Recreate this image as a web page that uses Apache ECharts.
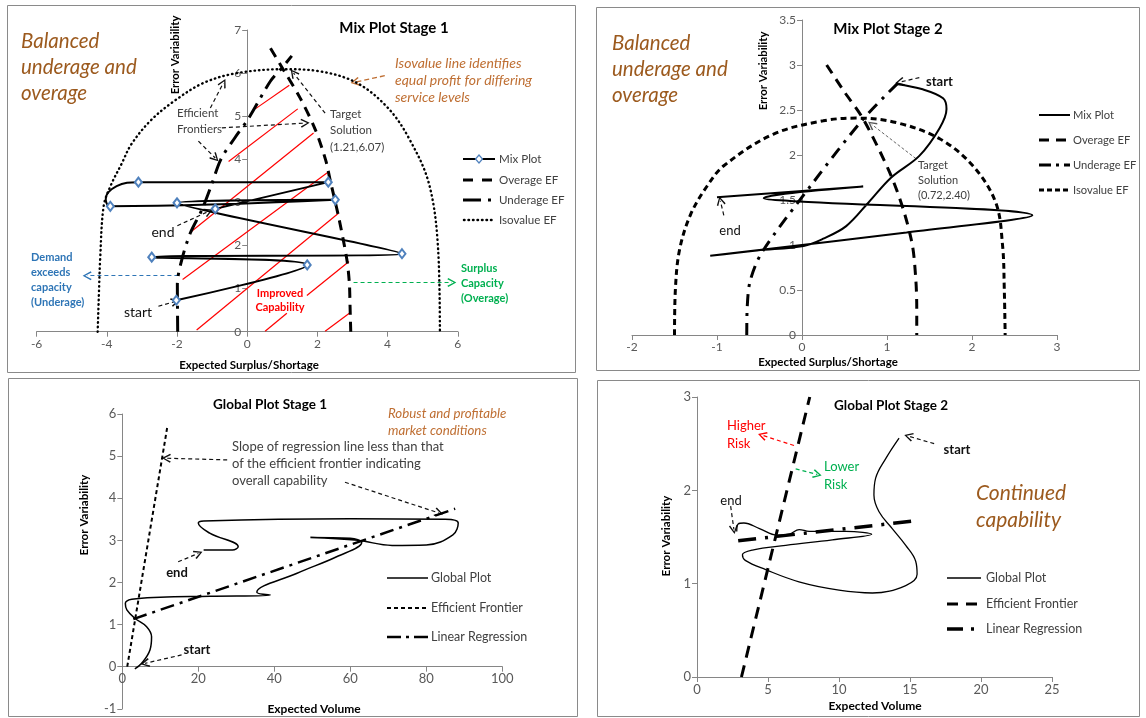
<!DOCTYPE html>
<html>
<head>
<meta charset="utf-8">
<script src="https://cdn.jsdelivr.net/npm/echarts@6/dist/echarts.min.js"></script>
<style>
html, body { margin: 0; padding: 0; background: #fff; }
#coolgraph { width: 1146px; height: 718px; }
</style>
</head>
<body>
<div id="coolgraph"></div>
<script>
// ---- Mix Plot Stage 1 (x: Expected Surplus/Shortage, y: Error Variability)
var mix1X = [-6, 6, 2];
var mix1Y = [0, 7, 1];
// markers are the real points; entries with symbol 'none' only shape the loop
var mix1Plot = [[-2.02,0.73],[1.71,1.55],[-2.72,1.73],[4.41,1.81],[-2.0,2.99],[2.51,3.06],[-3.9,2.91],
  { value: [-4.03,3.08], symbol: 'none' }, { value: [-3.72,3.38], symbol: 'none' },
  [-3.1,3.47],[2.31,3.47],[-0.91,2.85]];
var mix1Overage = [[2.95,0],[2.93,0.6],[2.91,1.13],[2.84,1.67],[2.6,2.68],[2.36,3.53],[2.24,3.97],[1.94,4.69],[1.51,5.42],[1.03,6.08],[0.66,6.58]];
var mix1Underage = [[-1.98,0],[-1.99,1.1],[-1.87,1.65],[-1.62,2.29],[-1.29,2.83],[-1.02,3.4],[-0.75,4.0],[-0.35,4.5],[0.04,4.95],[0.66,5.81],[1.03,6.16],[1.27,6.4]];
var mix1Isovalue = [[-4.26,0],[-4.22,1.0],[-4.19,1.67],[-4.09,2.91],[-3.9,3.37],[-3.57,3.91],[-3.3,4.35],[-2.75,4.9],[-2.1,5.34],[-1.25,5.77],[-0.29,6.0],[1.03,6.09],[2.08,6.04],[3.13,5.77],[4.0,5.2],[4.6,4.5],[5.18,3.43],[5.44,1.9],[5.49,0]];
var mix1Hatch = [
  [[0.23,5.17],[1.2,5.72]], [[-0.53,3.95],[1.44,5.17]], [[-1.6,2.32],[1.89,4.61]],
  [[-1.84,1.21],[2.3,3.7]], [[-1.44,0.04],[2.6,2.75]], [[0.51,0.01],[1.13,0.43]],
  [[1.7,0.84],[2.9,1.63]], [[2.22,0.01],[2.91,0.43]]
];
var mix1Arrows = [
  [[-1.05,5.19],[-0.68,5.77]], [[-0.72,4.73],[1.65,4.84]], [[-1.39,4.42],[-0.91,4.03]],
  [[2.22,5.07],[1.32,6.0]], [[-1.99,2.46],[-1.1,2.79]], [[-2.53,0.59],[-2.05,0.7]]
];
var mix1IsoArrow = [[[3.92,5.94],[3.07,5.79]]];
var mix1UnderArrow = [[[-1.96,1.3],[-4.56,1.3]]];
var mix1OverArrow = [[[3.03,1.14],[5.83,1.14]]];

// ---- Mix Plot Stage 2
var mix2X = [-2, 3, 1];
var mix2Y = [0, 3.5, 0.5];
var mix2Plot = [[1.11,2.79],[1.42,2.73],[1.66,2.63],[1.7,2.51],[1.62,2.3],[1.38,1.99],[1.05,1.75],[0.78,1.47],[0.52,1.21],[0.25,1.07],[0.02,0.99],[-0.53,0.94],[-1.08,0.88],[1.23,1.14],[2.71,1.33],[-0.14,1.49],[-0.45,1.52],[-0.2,1.57],[0.72,1.65],[-1.0,1.53]];
var mix2Overage = [[0.29,3.0],[0.5,2.7],[0.72,2.4],[1.03,1.81],[1.19,1.4],[1.3,0.99],[1.34,0.6],[1.35,0.3],[1.35,0]];
var mix2Underage = [[-0.65,0],[-0.645,0.3],[-0.61,0.6],[-0.47,0.92],[0.12,1.68],[0.72,2.4],[1.13,2.8]];
var mix2Isovalue = [[-1.5,0],[-1.49,0.5],[-1.44,0.95],[-1.31,1.34],[-1.12,1.65],[-0.92,1.88],[-0.34,2.23],[0.25,2.38],[0.64,2.41],[1.11,2.36],[1.62,2.18],[2.01,1.88],[2.28,1.47],[2.36,0.99],[2.38,0.5],[2.39,0]];
var mix2Arrows = [[[1.38,2.86],[1.15,2.81]], [[-0.92,1.33],[-0.96,1.49]]];
var mix2TargetArrow = [[[1.34,1.96],[0.82,2.34]]];

// ---- Global Plot Stage 1 (x: Expected Volume)
var glob1X = [0, 100, 20];
var glob1Y = [-1, 6, 1];
var glob1Plot = [[3.3,-0.05],[5.1,0.08],[7.3,0.4],[7.7,0.71],[6.4,0.95],[3.3,1.15],[1.2,1.35],[0.8,1.5],[2.5,1.6],[10,1.65],[23,1.67],[39,1.7],[35.4,1.77],[46,2.22],[56.4,2.61],[63,2.95],[60,3.05],[49.5,3.07],[62,3.0],[71,2.88],[80,2.89],[87,3.13],[88.4,3.41],[85,3.5],[60,3.51],[21.4,3.46],[20,3.41],[23,3.17],[30.5,2.85],[29,2.77],[21.4,2.77]];
var glob1Frontier = [[1.3,0],[11.8,5.67]];
var glob1Regression = [[2.9,1.13],[87.6,3.75]];
var glob1Arrows = [
  [[27.6,4.91],[11.6,4.95]], [[58.6,4.38],[83.3,3.65]],
  [[14.7,2.49],[20,2.69]], [[15.6,0.28],[6,0.08]]
];

// ---- Global Plot Stage 2
var glob2X = [0, 25, 5];
var glob2Y = [0, 3, 1];
var glob2Plot = [[14.23,2.56],[13.29,2.34],[12.58,2.13],[12.46,1.95],[12.82,1.77],[13.75,1.59],[14.7,1.41],[15.4,1.24],[15.5,1.1],[14.7,0.98],[12.35,0.9],[10,0.93],[7.18,1.02],[4.84,1.15],[3.4,1.25],[3.2,1.31],[3.9,1.36],[6.25,1.41],[9.53,1.47],[12.3,1.53],[10.5,1.56],[7.9,1.56],[7.2,1.58],[6.5,1.53],[5.65,1.52],[4.4,1.59],[3.3,1.65],[2.9,1.64],[2.8,1.56]];
var glob2Frontier = [[3.13,0],[7.94,3.0]];
var glob2Regression = [[2.9,1.46],[15.2,1.67]];
var glob2Arrows = [[[16.7,2.5],[14.9,2.58]], [[2.37,1.83],[2.6,1.58]]];
var glob2HighArrow = [[[6.83,2.48],[4.6,2.59]]];
var glob2LowArrow = [[[6.95,2.23],[8.47,2.17]]];

var FONT = 'Lato, "Open Sans", sans-serif';
var BROWN = '#9C5A1E';
var ORANGE = '#BF6F33';
var GREY = '#404040';
var AXIS = '#868686';
var ARROW = 'path://M5,0 L10,9 L8.6,10 L5,2.8 L1.4,10 L0,9 Z';

var chartDom = document.getElementById('coolgraph');
var myChart = echarts.init(chartDom);

// axis crossing the other one at zero is done with an offset (px) from the grid edge
function xAx(g, r, fs, off) {
  return {
    gridIndex: g, type: 'value', min: r[0], max: r[1], interval: r[2], offset: off || 0,
    axisLine: { onZero: false, lineStyle: { color: AXIS, width: 1 } },
    axisTick: { show: true, inside: false, length: 5, lineStyle: { color: AXIS } },
    axisLabel: { color: '#595959', fontSize: fs, fontFamily: FONT, margin: 6 },
    splitLine: { show: false }
  };
}
function yAx(g, r, fs, off) {
  return xAx(g, r, fs, off);
}
function curve(g, data, width, dash, smooth) {
  return {
    type: 'line', xAxisIndex: g, yAxisIndex: g, data: data,
    smooth: smooth, symbol: 'none', silent: true,
    lineStyle: { color: '#000', width: width, type: dash }
  };
}
function segs(g, list, color, width, dash, arrow) {
  return {
    type: 'lines', coordinateSystem: 'cartesian2d', xAxisIndex: g, yAxisIndex: g,
    silent: true, z: 3,
    symbol: arrow ? ['none', ARROW] : ['none', 'none'],
    symbolSize: [7, 9],
    lineStyle: { color: color, width: width, type: dash, opacity: 1 },
    data: list.map(function (c) { return { coords: c }; })
  };
}

// free text and legend helpers
function txt(x, y, s, font, fill, align, rot) {
  var e = { type: 'text', x: x, y: y, silent: true, z: 10,
    style: { text: s, font: font, fill: fill || '#000', align: align || 'left', verticalAlign: 'middle' } };
  if (rot) e.rotation = rot;
  return e;
}
function legRow(x1, x2, tx, y, label, width, dash, fs, cap) {
  return [
    { type: 'line', silent: true, z: 10, shape: { x1: x1, y1: y, x2: x2, y2: y },
      style: { stroke: '#000', lineWidth: width, lineDash: dash, lineCap: cap || 'butt' } },
    txt(tx, y, label, fs + 'px ' + FONT, GREY)
  ];
}
function box(x, y, w, h) {
  return { type: 'rect', silent: true, z: 0, shape: { x: x, y: y, width: w, height: h },
    style: { fill: null, stroke: '#8A8A8A', lineWidth: 1 } };
}

var els = [];
els.push(box(7.5, 5.5, 568, 367), box(596.5, 7.5, 543, 363), box(8.5, 378.5, 569, 338), box(597.5, 380.5, 542, 336));

// panel 1 texts
var bI = 'italic 20.5px ' + FONT;
els.push(txt(21, 41, 'Balanced', bI, BROWN), txt(21, 67, 'underage and', bI, BROWN), txt(21, 93, 'overage', bI, BROWN));
els.push(txt(394, 28, 'Mix Plot Stage 1', 'bold 15px ' + FONT, '#000', 'center'));
els.push(txt(175, 55, 'Error Variability', 'bold 11.3px ' + FONT, '#000', 'center', Math.PI / 2));
els.push(txt(249, 365, 'Expected Surplus/Shortage', 'bold 11.5px ' + FONT, '#000', 'center'));
var oI = 'italic 14px ' + FONT;
els.push(txt(395, 63, 'Isovalue line identifies', oI, ORANGE), txt(395, 80, 'equal profit for differing', oI, ORANGE), txt(395, 97, 'service levels', oI, ORANGE));
els.push(txt(177, 113, 'Efficient', '11.5px ' + FONT, GREY), txt(177, 129, 'Frontiers', '11.5px ' + FONT, GREY));
els.push(txt(330, 114, 'Target', '11.5px ' + FONT, GREY), txt(330, 130, 'Solution', '11.5px ' + FONT, GREY), txt(330, 147, '(1.21,6.07)', '11.5px ' + FONT, GREY));
els.push(txt(163, 232, 'end', '14px ' + FONT, '#111', 'center'), txt(138, 312, 'start', '14px ' + FONT, '#111', 'center'));
var blueF = 'bold 11px ' + FONT;
els.push(txt(31, 257, 'Demand', blueF, '#2E75B6'), txt(31, 272, 'exceeds', blueF, '#2E75B6'), txt(31, 287, 'capacity', blueF, '#2E75B6'), txt(31, 302, '(Underage)', blueF, '#2E75B6'));
els.push(txt(461, 268, 'Surplus', blueF, '#00B050'), txt(461, 283, 'Capacity', blueF, '#00B050'), txt(461, 298, '(Overage)', blueF, '#00B050'));
els.push(txt(280, 293, 'Improved', blueF, '#FF0000', 'center'), txt(280, 307, 'Capability', blueF, '#FF0000', 'center'));
els = els.concat(legRow(463, 495, 499, 159, 'Mix Plot', 2, null, 11.6));
els.push({ type: 'polygon', silent: true, z: 11, shape: { points: [[479, 155], [482.5, 159], [479, 163], [475.5, 159]] },
  style: { fill: '#fff', stroke: '#4F81BD', lineWidth: 1.2 } });
els = els.concat(legRow(463, 495, 499, 180, 'Overage EF', 3, [10, 9], 11.6));
els = els.concat(legRow(463, 495, 499, 200, 'Underage EF', 3, [18, 7, 3, 7], 11.6));
els = els.concat(legRow(464, 495, 499, 220, 'Isovalue EF', 2.5, [0.5, 4], 11.6, 'round'));

// panel 2 texts
els.push(txt(612, 43, 'Balanced', bI, BROWN), txt(612, 69, 'underage and', bI, BROWN), txt(612, 95, 'overage', bI, BROWN));
els.push(txt(888, 29, 'Mix Plot Stage 2', 'bold 15px ' + FONT, '#000', 'center'));
els.push(txt(763, 71, 'Error Variability', 'bold 11.3px ' + FONT, '#000', 'center', Math.PI / 2));
els.push(txt(828, 362, 'Expected Surplus/Shortage', 'bold 11.5px ' + FONT, '#000', 'center'));
els.push(txt(926, 82, 'start', 'bold 13px ' + FONT, '#111'));
els.push(txt(918, 165, 'Target', '11px ' + FONT, GREY), txt(918, 180, 'Solution', '11px ' + FONT, GREY), txt(918, 195, '(0.72,2.40)', '11px ' + FONT, GREY));
els.push(txt(730, 231, 'end', '13px ' + FONT, '#111', 'center'));
els = els.concat(legRow(1039, 1070, 1073, 115, 'Mix Plot', 2, null, 11.2));
els = els.concat(legRow(1039, 1070, 1073, 140, 'Overage EF', 3, [10, 7], 11.2));
els = els.concat(legRow(1039, 1070, 1073, 165, 'Underage EF', 3, [12, 5, 3, 5], 11.2));
els = els.concat(legRow(1039, 1070, 1073, 190, 'Isovalue EF', 3, [5, 3], 11.2));

// panel 3 texts
els.push(txt(270, 405, 'Global Plot Stage 1', 'bold 13.5px ' + FONT, '#000', 'center'));
els.push(txt(388, 414, 'Robust and profitable', 'italic 13.3px ' + FONT, ORANGE), txt(388, 431, 'market conditions', 'italic 13.3px ' + FONT, ORANGE));
var sF = '13px ' + FONT;
els.push(txt(232, 447, 'Slope of regression line less than that', sF, GREY), txt(232, 464, 'of the efficient frontier indicating', sF, GREY), txt(232, 481, 'overall capability', sF, GREY));
els.push(txt(177, 573, 'end', 'bold 13px ' + FONT, '#111', 'center'), txt(197, 650, 'start', 'bold 13px ' + FONT, '#111', 'center'));
els.push(txt(84, 515, 'Error Variability', 'bold 11.6px ' + FONT, '#000', 'center', Math.PI / 2));
els.push(txt(314, 709, 'Expected Volume', 'bold 12px ' + FONT, '#000', 'center'));
els = els.concat(legRow(387, 428, 431, 578, 'Global Plot', 1.5, null, 12.5));
els = els.concat(legRow(387, 428, 431, 608, 'Efficient Frontier', 2, [4, 3], 12.5));
els = els.concat(legRow(387, 428, 431, 637, 'Linear Regression', 2.5, [14, 5, 3, 5], 12.5));

// panel 4 texts
els.push(txt(891, 406, 'Global Plot Stage 2', 'bold 13.5px ' + FONT, '#000', 'center'));
els.push(txt(727, 426, 'Higher', '13px ' + FONT, '#FF0000'), txt(727, 444, 'Risk', '13px ' + FONT, '#FF0000'));
els.push(txt(824, 467, 'Lower', '13px ' + FONT, '#00B050'), txt(824, 485, 'Risk', '13px ' + FONT, '#00B050'));
els.push(txt(957, 450, 'start', 'bold 13px ' + FONT, '#111', 'center'));
els.push(txt(731, 501, 'end', '13px ' + FONT, '#111', 'center'));
els.push(txt(976, 493, 'Continued', 'italic 21px ' + FONT, BROWN), txt(976, 520, 'capability', 'italic 21px ' + FONT, BROWN));
els.push(txt(666, 536, 'Error Variability', 'bold 11.6px ' + FONT, '#000', 'center', Math.PI / 2));
els.push(txt(875, 706, 'Expected Volume', 'bold 12px ' + FONT, '#000', 'center'));
els = els.concat(legRow(947, 981, 986, 578, 'Global Plot', 1.3, null, 12.5));
els = els.concat(legRow(947, 981, 986, 604, 'Efficient Frontier', 3, [11, 8], 12.5));
els = els.concat(legRow(947, 981, 986, 629, 'Linear Regression', 3.5, [16, 8, 3, 8], 12.5));

option = {
  animation: false,
  backgroundColor: '#fff',
  textStyle: { fontFamily: FONT },
  grid: [
    { left: 36.6, top: 30, width: 421.2, height: 301.7, outerBoundsMode: 'none' },
    { left: 632, top: 20, width: 425, height: 315, outerBoundsMode: 'none' },
    { left: 122.3, top: 414, width: 380, height: 294.8, outerBoundsMode: 'none' },
    { left: 697, top: 397, width: 355, height: 280, outerBoundsMode: 'none' }
  ],
  xAxis: [xAx(0, mix1X, 12), xAx(1, mix2X, 12), xAx(2, glob1X, 13, -42.1), xAx(3, glob2X, 13)],
  yAxis: [yAx(0, mix1Y, 12, -210.6), yAx(1, mix2Y, 12, -170), yAx(2, glob1Y, 13), yAx(3, glob2Y, 13)],
  series: [
    // Mix Plot Stage 1
    segs(0, mix1Hatch, '#FF0000', 1.2, 'solid', false),
    {
      name: 'Mix Plot', type: 'line', xAxisIndex: 0, yAxisIndex: 0, data: mix1Plot,
      smooth: 0.4, symbol: 'emptyDiamond', symbolSize: [7, 9], showSymbol: true, silent: true,
      itemStyle: { color: '#4F81BD', borderWidth: 1.2 },
      lineStyle: { color: '#000', width: 2 }, z: 4
    },
    curve(0, mix1Overage, 3, [10, 7], 0.3),
    curve(0, mix1Underage, 3, [16, 7, 3, 7], 0.3),
    {
      type: 'line', xAxisIndex: 0, yAxisIndex: 0, data: mix1Isovalue, smooth: 0.35,
      symbol: 'none', silent: true, lineStyle: { color: '#000', width: 2.4, type: [0.5, 4], cap: 'round' }
    },
    segs(0, mix1Arrows, '#111', 1.2, [4, 3], true),
    segs(0, mix1IsoArrow, ORANGE, 1.3, [5, 3], true),
    segs(0, mix1UnderArrow, '#2E75B6', 1.2, [4, 3], true),
    segs(0, mix1OverArrow, '#00B050', 1.2, [4, 3], true),
    // Mix Plot Stage 2
    curve(1, mix2Plot, 2, 'solid', 0.35),
    curve(1, mix2Overage, 3, [10, 7], 0.3),
    curve(1, mix2Underage, 3, [12, 7, 3, 7], 0.3),
    curve(1, mix2Isovalue, 3, [6, 4], 0.35),
    segs(1, mix2Arrows, '#111', 1.2, [4, 3], true),
    segs(1, mix2TargetArrow, '#555', 0.9, [3, 2], true),
    // Global Plot Stage 1
    curve(2, glob1Plot, 1.5, 'solid', 0.4),
    curve(2, glob1Frontier, 2, [4, 3], false),
    curve(2, glob1Regression, 2.5, [14, 6, 3, 6], false),
    segs(2, glob1Arrows, '#111', 1.2, [4, 3], true),
    // Global Plot Stage 2
    curve(3, glob2Plot, 1.3, 'solid', 0.4),
    curve(3, glob2Frontier, 3, [12, 8], false),
    curve(3, glob2Regression, 3.5, [18, 9, 3, 9], false),
    segs(3, glob2Arrows, '#111', 1.2, [4, 3], true),
    segs(3, glob2HighArrow, '#FF0000', 1.2, [4, 3], true),
    segs(3, glob2LowArrow, '#00B050', 1.2, [4, 3], true)
  ],
  graphic: { elements: els }
};

option && myChart.setOption(option);
</script>
</body>
</html>
